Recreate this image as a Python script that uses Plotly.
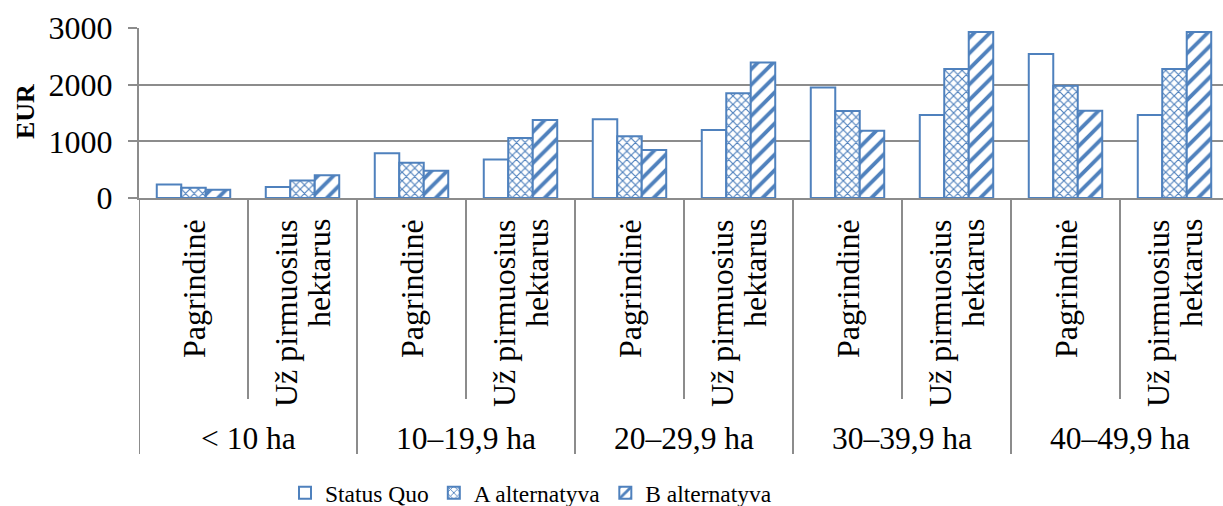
import plotly.graph_objects as go

# ---- data ----
groups = ["< 10 ha", "10–19,9 ha", "20–29,9 ha", "30–39,9 ha", "40–49,9 ha"]
subcats = ["Pagrindinė", "Už pirmuosius<br>hektarus"]
series_names = ["Status Quo", "A alternatyva", "B alternatyva"]
status_quo = [240, 195, 790, 680, 1390, 1200, 1950, 1465, 2540, 1465]
alt_a = [180, 310, 620, 1060, 1090, 1850, 1535, 2275, 1980, 2275]
alt_b = [145, 400, 480, 1375, 845, 2390, 1185, 2930, 1540, 2930]
y_ticks = [0, 1000, 2000, 3000]
y_title = "EUR"

# ---- layout constants (pixels) ----
W, H = 1223, 506
PL, PT = 139, 28          # plot left / top
PB = 198                  # plot bottom (y = 0)
CAT_W = 109               # pixel width of one category
LINE_GAP = 33             # spacing of wrapped rotated label lines
plot_h = PB - PT
plot_w = W - PL

def py(p):  # pixel y -> paper y
    return (PB - p) / plot_h

def px(p):  # pixel x -> paper x
    return (p - PL) / plot_w

BLUE = "#4f81bd"
GRID = "#8c8c8c"
FONT = "Liberation Serif"

# unique category keys
keys, key_group, key_sub = [], [], []
for g in groups:
    for s in subcats:
        keys.append(f"{g}|{s}")
        key_group.append(g)
        key_sub.append(s)

fig = go.Figure()
patterns = [dict(shape=""), dict(shape="x", size=6, solidity=0.35), dict(shape="/", size=11, solidity=0.35)]
for name, vals, pat in zip(series_names, [status_quo, alt_a, alt_b], patterns):
    p = dict(pat)
    p.update(fgcolor=BLUE, bgcolor="white", fillmode="replace")
    fig.add_trace(go.Bar(
        x=keys, y=vals, name=name,
        marker=dict(color="white", line=dict(color=BLUE, width=2), pattern=p),
    ))

annotations = []
# inner labels (rotated); wrapped lines placed individually
for i, s in enumerate(key_sub):
    lines = s.split("<br>")
    n = len(lines)
    for li, line in enumerate(lines):
        annotations.append(dict(
            x=i, xref="x", y=py(217), yref="paper", text=line, showarrow=False,
            textangle=-90, xanchor="center", yanchor="top",
            xshift=(li - (n - 1) / 2) * LINE_GAP,
            font=dict(family=FONT, size=32, color="black"),
        ))
# group labels
for gi, g in enumerate(groups):
    members = [i for i, kg in enumerate(key_group) if kg == g]
    annotations.append(dict(
        x=sum(members) / len(members), xref="x", y=py(438), yref="paper",
        text=g, showarrow=False, xanchor="center", yanchor="middle",
        font=dict(family=FONT, size=31.5, color="black"),
    ))
# y title
annotations.append(dict(
    x=px(25), xref="paper", y=py(112), yref="paper", text=f"<b>{y_title}</b>",
    showarrow=False, textangle=-90, xanchor="center", yanchor="middle",
    font=dict(family=FONT, size=26, color="black"),
))

shapes = []
for i in range(len(keys) + 1):
    xpos = i - 0.5
    is_group_edge = (i == 0) or (i == len(keys)) or key_group[i] != key_group[i - 1]
    shapes.append(dict(
        type="line", xref="x", yref="paper", x0=xpos, x1=xpos,
        y0=0, y1=py(454) if is_group_edge else py(399),
        line=dict(color=GRID, width=2),
    ))

fig.update_layout(
    width=W, height=H,
    margin=dict(l=PL, r=0, t=PT, b=H - PB, autoexpand=False),
    paper_bgcolor="white", plot_bgcolor="white",
    barmode="group", bargap=0.326, bargroupgap=0,
    showlegend=True,
    legend=dict(orientation="h", x=px(285), xanchor="left", y=py(493), yanchor="middle",
                font=dict(family=FONT, size=23.5, color="black"), bgcolor="rgba(0,0,0,0)",
                traceorder="normal"),
    annotations=annotations, shapes=shapes,
    font=dict(family=FONT, color="black"),
)
fig.update_xaxes(
    type="category", categoryorder="array", categoryarray=keys,
    range=[-0.5, -0.5 + plot_w / CAT_W], showticklabels=False, ticks="",
    showgrid=False, showline=True, linecolor=GRID, linewidth=2, zeroline=False,
)
fig.update_yaxes(
    range=[0, 3000], tickvals=y_ticks, ticks="outside", ticklen=9, tickwidth=2,
    tickcolor=GRID, showgrid=True, gridcolor=GRID, gridwidth=2,
    showline=True, linecolor=GRID, linewidth=2, zeroline=False,
    tickfont=dict(family=FONT, size=32, color="black"), ticklabelstandoff=9,
)

fig.write_html(
    "out.html",
    config={"displayModeBar": False},
    post_script="document.body.style.margin='0px';document.body.style.overflow='hidden';",
)
